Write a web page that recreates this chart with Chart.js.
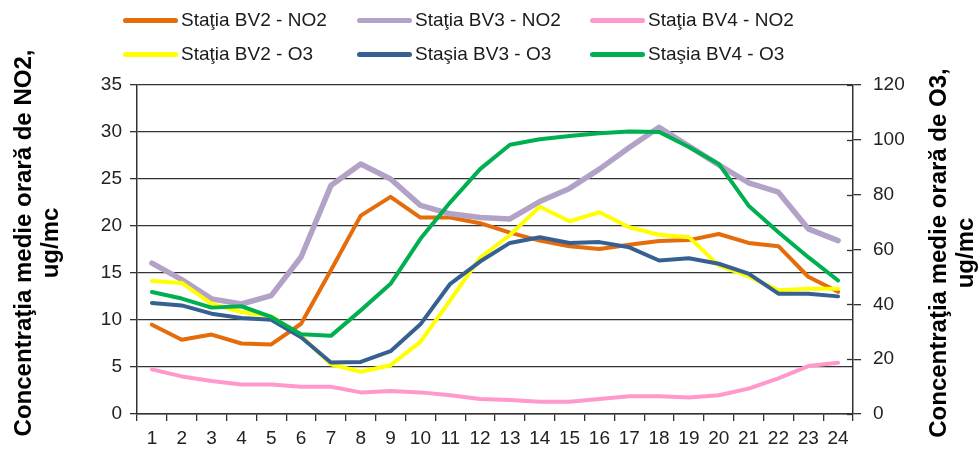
<!DOCTYPE html>
<html>
<head>
<meta charset="utf-8">
<script src="https://cdn.jsdelivr.net/npm/chart.js@4.4.1/dist/chart.umd.min.js"></script>
<style>
  body { margin: 0; background: #fff; }
  #wrap { position: relative; width: 979px; height: 450px; }
  #legend { position: absolute; left: 0; top: 0; width: 979px; height: 70px; font-family: "Liberation Sans", Arial, sans-serif; font-size: 19px; color: #1a1a1a; }
  .lg-item { position: absolute; display: flex; align-items: center; white-space: nowrap; }
  .lg-line { width: 55px; height: 5px; border-radius: 3px; margin-right: 3px; }
</style>
</head>
<body>
<div id="wrap">
  <canvas id="chart" width="979" height="450"></canvas>
  <div id="legend"></div>
</div>
<script>
/* Concentratii medii orare NO2 / O3 - statiile BV2, BV3, BV4 */

const hours = ['1','2','3','4','5','6','7','8','9','10','11','12','13','14','15','16','17','18','19','20','21','22','23','24'];

// NO2, ug/mc (left axis)
const bv2No2 = [9.5, 7.9, 8.45, 7.5, 7.4, 9.6, 15.3, 21.1, 23.1, 20.9, 20.9, 20.3, 19.3, 18.45, 17.85, 17.55, 18.0, 18.4, 18.5, 19.15, 18.2, 17.85, 14.6, 13.0];
const bv3No2 = [16.05, 14.3, 12.25, 11.7, 12.6, 16.7, 24.3, 26.6, 25.0, 22.2, 21.3, 20.9, 20.75, 22.6, 24.0, 26.05, 28.35, 30.5, 28.5, 26.5, 24.6, 23.6, 19.7, 18.45];
const bv4No2 = [4.75, 4.0, 3.5, 3.15, 3.15, 2.9, 2.9, 2.3, 2.45, 2.3, 2.0, 1.6, 1.5, 1.3, 1.3, 1.6, 1.9, 1.9, 1.75, 2.0, 2.7, 3.8, 5.1, 5.45];

// O3, ug/mc (right axis)
const bv2O3 = [48.5, 47.8, 40.2, 37.2, 35.7, 28.5, 18.1, 15.4, 17.8, 26.3, 41.5, 57.0, 65.3, 75.6, 70.3, 73.6, 68.1, 65.4, 64.5, 54.2, 50.2, 45.1, 45.7, 45.7];
const bv3O3 = [40.5, 39.6, 36.6, 35.0, 34.4, 28.0, 18.8, 19.0, 22.9, 32.7, 47.5, 55.6, 62.4, 64.5, 62.4, 62.7, 60.8, 56.0, 56.8, 54.8, 51.2, 43.9, 43.9, 42.9];
const bv4O3 = [44.5, 42.1, 38.8, 39.3, 35.4, 29.1, 28.5, 37.8, 47.5, 63.9, 77.2, 89.3, 98.2, 100.2, 101.4, 102.4, 103.0, 102.9, 97.4, 91.2, 76.0, 66.3, 57.2, 48.7];

const seriesLabels = ['Staţia BV2 - NO2', 'Staţia BV3 - NO2', 'Staţia BV4 - NO2', 'Staţia BV2 - O3', 'Staşia BV3 - O3', 'Staşia BV4 - O3'];
const seriesValues = [bv2No2, bv3No2, bv4No2, bv2O3, bv3O3, bv4O3];
const seriesColors = ['#E46C0A', '#B3A2C7', '#FF99CC', '#FFFF00', '#376092', '#00B050'];
const seriesAxis = ['y', 'y', 'y', 'y1', 'y1', 'y1'];
const seriesWidth = [4, 5.5, 4, 4, 4, 4];

const leftTitle = ['Concentraţia medie orară de NO2,', 'ug/mc'];
const rightTitle = ['Concentraţia medie orară de O3,', 'ug/mc'];

const FONT = '"Liberation Sans", Arial, sans-serif';

// legend: 3 columns x 2 rows, like the Excel original
(function buildLegend() {
  const cols = [123, 357, 590];
  const rows = [20, 54];
  const el = document.getElementById('legend');
  el.innerHTML = seriesLabels.map((lbl, i) => {
    const x = cols[i % 3], y = rows[Math.floor(i / 3)];
    return `<div class="lg-item" style="left:${x}px; top:${y - 11}px; height:22px;"><span class="lg-line" style="background:${seriesColors[i]};"></span>${lbl}</div>`;
  }).join('');
})();

// rotated two-line axis titles (both read bottom to top) + inner half of the right axis ticks
const axisExtras = {
  id: 'axisExtras',
  afterDraw(chart) {
    const ctx = chart.ctx;
    const draw = (lines, x1, x2, cy) => {
      ctx.save();
      ctx.font = 'bold 24px ' + FONT;
      ctx.fillStyle = '#000';
      ctx.textAlign = 'center';
      ctx.textBaseline = 'middle';
      [x1, x2].forEach((x, i) => {
        ctx.save();
        ctx.translate(x, cy);
        ctx.rotate(-Math.PI / 2);
        ctx.fillText(lines[i], 0, 0);
        ctx.restore();
      });
      ctx.restore();
    };
    draw(leftTitle, 24, 51, 243);
    draw(rightTitle, 939, 966, 253);

    const r = chart.scales.y1;
    ctx.save();
    ctx.strokeStyle = '#333';
    ctx.lineWidth = 1.3;
    r.ticks.forEach(t => {
      const py = Math.round(r.getPixelForValue(t.value)) + 0.5;
      ctx.beginPath();
      ctx.moveTo(r.left - 6, py);
      ctx.lineTo(r.left, py);
      ctx.stroke();
    });
    ctx.restore();
  }
};

new Chart(document.getElementById('chart'), {
  type: 'line',
  data: {
    labels: hours,
    datasets: seriesValues.map((vals, i) => ({
      label: seriesLabels[i],
      data: vals,
      yAxisID: seriesAxis[i],
      borderColor: seriesColors[i],
      backgroundColor: seriesColors[i],
      borderWidth: seriesWidth[i],
      pointRadius: 0,
      tension: 0,
      borderJoinStyle: 'round',
      borderCapStyle: 'round',
      order: 6 - i
    }))
  },
  options: {
    responsive: false,
    animation: false,
    layout: { padding: { top: 85, left: 0, right: 0, bottom: 0 } },
    plugins: { legend: { display: false }, tooltip: { enabled: false } },
    scales: {
      x: {
        offset: true,
        grid: { offset: true, drawOnChartArea: false, drawTicks: true, tickLength: 7, color: '#333', lineWidth: 1.3 },
        border: { color: '#333', width: 1.5 },
        ticks: { font: { family: FONT, size: 19 }, color: '#222', padding: 6, maxRotation: 0, autoSkip: false },
        afterFit: s => { s.height = 36; }
      },
      y: {
        position: 'left',
        min: 0, max: 35,
        grid: { color: '#333', lineWidth: 1.3, tickLength: 7 },
        border: { color: '#333', width: 1.5 },
        ticks: { stepSize: 5, font: { family: FONT, size: 19 }, color: '#222', padding: 8 },
        afterFit: s => { s.width = 137; }
      },
      y1: {
        position: 'right',
        min: 0, max: 120,
        grid: { drawOnChartArea: false, color: '#333', lineWidth: 1.3, tickLength: 8 },
        border: { color: '#333', width: 1.5 },
        ticks: { stepSize: 20, font: { family: FONT, size: 19 }, color: '#222', padding: 12 },
        afterFit: s => { s.width = 126; }
      }
    }
  },
  plugins: [axisExtras]
});
</script>
</body>
</html>
